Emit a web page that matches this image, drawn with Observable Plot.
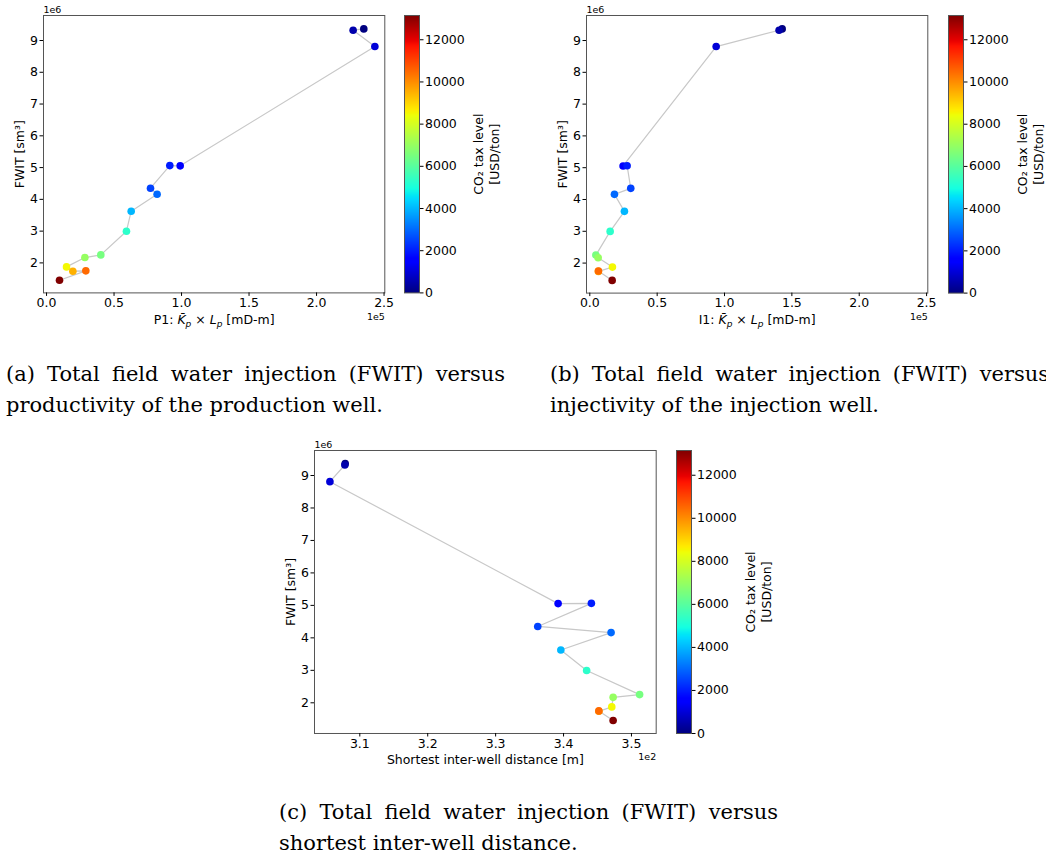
<!DOCTYPE html>
<html><head><meta charset="utf-8">
<script src="https://cdn.jsdelivr.net/npm/d3@7"></script>
<script src="https://cdn.jsdelivr.net/npm/@observablehq/plot@0.6"></script>
<style>
html,body{margin:0;padding:0;background:#fff;}
#root{position:relative;width:1046px;height:864px;overflow:hidden;background:#fff;}
svg{overflow:visible;}
</style></head><body><div id="root"></div>
<script>
// ---- data (sorted by CO2 tax level, ascending) ----
const taxLevels      = [0, 500, 1000, 1500, 2000, 2500, 3000, 4000, 5300, 6500, 7000, 8500, 9500, 10500, 13150];
const fwit           = [9.366e6, 9.324e6, 8.81e6, 5.055e6, 5.062e6, 4.351e6, 4.162e6, 3.627e6, 2.997e6, 2.252e6, 2.168e6, 1.874e6, 1.738e6, 1.750e6, 1.455e6];
const productivityP1 = [2.350e5, 2.271e5, 2.432e5, 0.990e5, 0.913e5, 0.770e5, 0.819e5, 0.627e5, 0.592e5, 0.402e5, 0.284e5, 0.148e5, 0.195e5, 0.291e5, 0.096e5];
const injectivityI1  = [1.428e5, 1.405e5, 0.938e5, 0.247e5, 0.277e5, 0.304e5, 0.183e5, 0.257e5, 0.151e5, 0.045e5, 0.062e5, 0.168e5, 0.064e5, 0.064e5, 0.166e5];
const interWellDist  = [307.85, 307.8, 305.6, 339.2, 344.1, 336.2, 347.0, 339.6, 343.4, 351.2, 347.3, 347.1, 345.2, 345.2, 347.3];
const fwitTicks  = [2e6, 3e6, 4e6, 5e6, 6e6, 7e6, 8e6, 9e6];
const kTicks     = [0, 0.5e5, 1.0e5, 1.5e5, 2.0e5, 2.5e5];
const distTicks  = [310, 320, 330, 340, 350];
const cbarTicks  = [0, 2000, 4000, 6000, 8000, 10000, 12000];
const cbarMax    = 13150;
const captionsL1 = ["(a) Total field water injection (FWIT) versus",
                    "(b) Total field water injection (FWIT) versus",
                    "(c) Total field water injection (FWIT) versus"];
const captionsL2 = ["productivity of the production well.",
                    "injectivity of the injection well.",
                    "shortest inter-well distance."];

// ---- jet colormap (matplotlib) ----
function seg(pts, t){
  for (let i = 1; i < pts.length; i++) {
    if (t <= pts[i][0]) { const [x0,y0] = pts[i-1], [x1,y1] = pts[i]; return y0 + (y1-y0)*(t-x0)/(x1-x0); }
  }
  return pts[pts.length-1][1];
}
const JR=[[0,0],[0.35,0],[0.66,1],[0.89,1],[1,0.5]];
const JG=[[0,0],[0.125,0],[0.375,1],[0.64,1],[0.91,0],[1,0]];
const JB=[[0,0.5],[0.11,1],[0.34,1],[0.65,0],[1,0]];
const jet = t => { t = Math.max(0, Math.min(1, t)); return d3.rgb(255*seg(JR,t), 255*seg(JG,t), 255*seg(JB,t)).formatHex(); };

const rows = taxLevels.map((tax, i) => ({tax, fwit: fwit[i], p1: productivityP1[i], i1: injectivityI1[i], dist: interWellDist[i]}));
const colorScale = {type: "linear", domain: [0, cbarMax], interpolate: jet};
const root = document.getElementById("root");
const ML = 50, MR = 14, MT = 20, MB = 50;
const FS = 12.5;
const baseStyle = {fontFamily: "DejaVu Sans, sans-serif", fontSize: FS + "px", color: "#000", background: "transparent", overflow: "visible"};

function place(el, left, top){
  el.style.position = "absolute"; el.style.left = left + "px"; el.style.top = top + "px";
  root.appendChild(el);
}

function mainPanel({fx, fy, fw, fh, xKey, xDomain, yDomain, xTicks, xFmt, xExp, xLabel, prefix}) {
  const svg = Plot.plot({
    width: ML + fw + MR, height: MT + fh + MB,
    marginLeft: ML, marginRight: MR, marginTop: MT, marginBottom: MB,
    style: baseStyle,
    x: {domain: xDomain}, y: {domain: yDomain}, color: colorScale,
    marks: [
      Plot.line(rows, {x: xKey, y: "fwit", stroke: "#c8c8c8", strokeWidth: 1.2}),
      Plot.dot(rows, {x: xKey, y: "fwit", r: 3.8, fill: "tax"}),
      Plot.frame({stroke: "#555", strokeWidth: 1}),
      Plot.axisX(xTicks, {tickFormat: xFmt, tickSize: 3.5, tickPadding: 2, fontSize: FS, label: null}),
      Plot.axisY(fwitTicks, {tickFormat: d => String(d / 1e6), tickSize: 3.5, tickPadding: 2, fontSize: FS, label: null}),
      Plot.text(["FWIT [sm³]"], {text: d => d, frameAnchor: "left", dx: -24, rotate: -90, fontSize: FS, textAnchor: "middle", lineAnchor: "middle"}),
      Plot.text(["1e6"], {text: d => d, frameAnchor: "top-left", dy: -2.5, textAnchor: "start", lineAnchor: "bottom", fontSize: 9.5}),
      Plot.text([xExp], {text: d => d, frameAnchor: "bottom-right", dy: 20, textAnchor: "end", lineAnchor: "top", fontSize: 9.5}),
      Plot.text([xLabel], {text: d => d, frameAnchor: "bottom", dy: 31, textAnchor: "middle", lineAnchor: "bottom", fontSize: FS})
    ]
  });
  if (prefix) {
    const t = d3.select(svg).selectAll("text").filter(function(){ return this.textContent === xLabel; });
    t.text(null);
    t.append("tspan").text(prefix);
    t.append("tspan").attr("font-style", "italic").text("K\u0304");
    t.append("tspan").attr("font-style", "italic").attr("font-size", 9).attr("dy", 3).text("p");
    t.append("tspan").attr("dy", -3).text(" × ");
    t.append("tspan").attr("font-style", "italic").text("L");
    t.append("tspan").attr("font-style", "italic").attr("font-size", 9).attr("dy", 3).text("p");
    t.append("tspan").attr("dy", -3).text(" [mD-m]");
  }
  place(svg, fx - ML, fy - MT);
}

function colorbar({cx, fy, fh}) {
  const cw = 15, cml = 5, cmr = 110;
  const svg = Plot.plot({
    width: cml + cw + cmr, height: MT + fh + MB,
    marginLeft: cml, marginRight: cmr, marginTop: MT, marginBottom: MB,
    style: baseStyle,
    x: {domain: [0, 1], axis: null},
    y: {domain: [0, cbarMax]},
    color: colorScale,
    marks: [
      Plot.raster({x1: 0, x2: 1, y1: 0, y2: cbarMax, fill: (x, y) => y, width: 1, height: Math.round(fh)}),
      Plot.frame({stroke: "#555", strokeWidth: 1}),
      Plot.axisY(cbarTicks, {anchor: "right", tickFormat: d => String(d), tickSize: 3.5, tickPadding: 2, fontSize: FS, label: null}),
      Plot.text(["CO₂ tax level\n[USD/ton]"], {text: d => d, frameAnchor: "left", dx: 81, rotate: -90, textAnchor: "middle", lineAnchor: "middle", fontSize: FS, lineHeight: 1.3})
    ]
  });
  place(svg, cx - cml, fy - MT);
}

mainPanel({fx: 42.7, fy: 15.3, fw: 341.3, fh: 277.4, xKey: "p1", xDomain: [-0.0225e5, 2.5055e5], yDomain: [1.056e6, 9.787e6],
  xTicks: kTicks, xFmt: d => (d / 1e5).toFixed(1), xExp: "1e5", xLabel: "P1LABEL", prefix: "P1: "});
colorbar({cx: 404, fy: 15.3, fh: 277.4});

mainPanel({fx: 585.7, fy: 15.3, fw: 341.3, fh: 277.6, xKey: "i1", xDomain: [-0.0245e5, 2.509e5], yDomain: [1.056e6, 9.787e6],
  xTicks: kTicks, xFmt: d => (d / 1e5).toFixed(1), xExp: "1e5", xLabel: "I1LABEL", prefix: "I1: "});
colorbar({cx: 948, fy: 15.3, fh: 277.6});

mainPanel({fx: 314, fy: 450, fw: 341.7, fh: 283, xKey: "dist", xDomain: [303.33, 353.64], yDomain: [1.055e6, 9.77e6],
  xTicks: distTicks, xFmt: d => (d / 100).toFixed(1), xExp: "1e2", xLabel: "Shortest inter-well distance [m]"});
colorbar({cx: 676, fy: 450, fh: 283});

// ---- captions ----
const capFont = '"DejaVu Serif", serif';
const cap = d3.select(root).append("svg").attr("width", 1046).attr("height", 864)
  .style("position", "absolute").style("left", "0px").style("top", "0px").style("pointer-events", "none");
const probe = cap.append("text").attr("font-family", capFont).attr("font-size", 20).text(captionsL2[0]);
const fs = 20 * 377 / probe.node().getComputedTextLength();
probe.remove();
function caption(x, y1, y2, line1, line2, width) {
  const g = cap.append("g").attr("font-family", capFont).attr("font-size", fs).attr("fill", "#000");
  const words = line1.split(" ");
  const texts = words.map(w => g.append("text").attr("y", y1).text(w));
  const widths = texts.map(t => t.node().getComputedTextLength());
  const gap = (width - d3.sum(widths)) / (words.length - 1);
  let cx = x;
  texts.forEach((t, i) => { t.attr("x", cx); cx += widths[i] + gap; });
  g.append("text").attr("x", x).attr("y", y2).text(line2);
}
caption(6, 381, 412, captionsL1[0], captionsL2[0], 499);
caption(550, 381, 412, captionsL1[1], captionsL2[1], 499);
caption(279, 819, 850, captionsL1[2], captionsL2[2], 499);
</script></body></html>
